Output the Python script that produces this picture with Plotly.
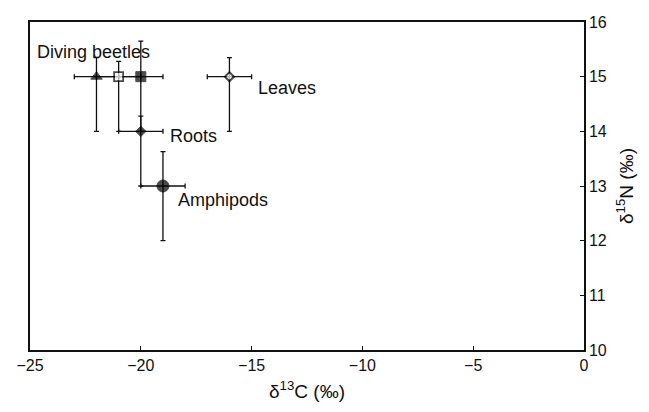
import plotly.graph_objects as go

# food web isotope data (per mil)
names = ["Diving beetles", "Diving beetles 2", "Diving beetles 3", "Roots", "Amphipods", "Leaves"]
d13c = [-22, -21, -20, -20, -19, -16]
d15n = [15, 15, 15, 14, 13, 15]
d13c_err = [1, 1, 1, 1, 1, 1]
d15n_err_plus = [0.35, 0.28, 0.65, 0.28, 0.63, 0.35]
d15n_err_minus = [1, 1, 1, 1, 1, 1]

x_ticks = [-25, -20, -15, -10, -5, 0]
y_ticks = [10, 11, 12, 13, 14, 15, 16]

ink = "#111111"
font = "Liberation Sans, Arial, sans-serif"

fig = go.Figure()

# error bars first, so markers sit on top
fig.add_trace(go.Scatter(
    x=d13c, y=d15n, mode="markers",
    marker=dict(size=1, color="rgba(0,0,0,0)"),
    error_x=dict(type="data", array=d13c_err, color=ink, thickness=1.3, width=2.5),
    error_y=dict(type="data", symmetric=False, array=d15n_err_plus,
                 arrayminus=d15n_err_minus, color=ink, thickness=1.3, width=2.5),
    hoverinfo="skip", showlegend=False,
))

fig.add_trace(go.Scatter(
    x=d13c, y=d15n, mode="markers", text=names,
    marker=dict(
        symbol=["triangle-up", "square", "square", "diamond", "circle", "diamond"],
        size=[10, 9, 10, 8, 12, 7],
        color=["black", "white", "black", "black", "black", "white"],
        line=dict(color="black", width=[1, 1.8, 1, 1, 1, 2]),
    ),
    hovertemplate="<b>%{text}</b><br>δ13C: %{x}<br>δ15N: %{y}<extra></extra>",
    showlegend=False,
))

# group labels (beetles label goes on the triangle point)
label_idx = [0, 5, 3, 4]
label_shift = [(-61, 25), (27, -11), (27, -5), (13, -14)]
for i, (dx, dy) in zip(label_idx, label_shift):
    fig.add_annotation(
        x=d13c[i], y=d15n[i], text=names[i], showarrow=False,
        xanchor="left", yanchor="middle", xshift=dx, yshift=dy,
        font=dict(family=font, size=18, color=ink),
    )

fig.update_layout(
    width=649, height=412,
    margin=dict(l=30, r=65, t=22, b=62),
    plot_bgcolor="white", paper_bgcolor="white",
    font=dict(family=font, size=16, color=ink),
    xaxis=dict(
        range=[-25, 0], tickvals=x_ticks, showgrid=False, zeroline=False,
        showline=True, linecolor=ink, linewidth=1.5, mirror=True,
        ticks="inside", ticklen=4, tickwidth=1.2, tickcolor=ink,
        title=dict(text="δ<sup>13</sup>C (‰)", standoff=12),
    ),
    yaxis=dict(
        range=[10, 16], tickvals=y_ticks, side="right", showgrid=False, zeroline=False,
        showline=True, linecolor=ink, linewidth=1.5, mirror=True,
        ticks="inside", ticklen=4, tickwidth=1.2, tickcolor=ink,
        title=dict(text="δ<sup>15</sup>N (‰)", standoff=14),
    ),
)

# drop the default page margin so the figure sits at the window origin
fig.write_html("out.html", config={"displayModeBar": False},
               post_script="document.body.style.margin='0';")
